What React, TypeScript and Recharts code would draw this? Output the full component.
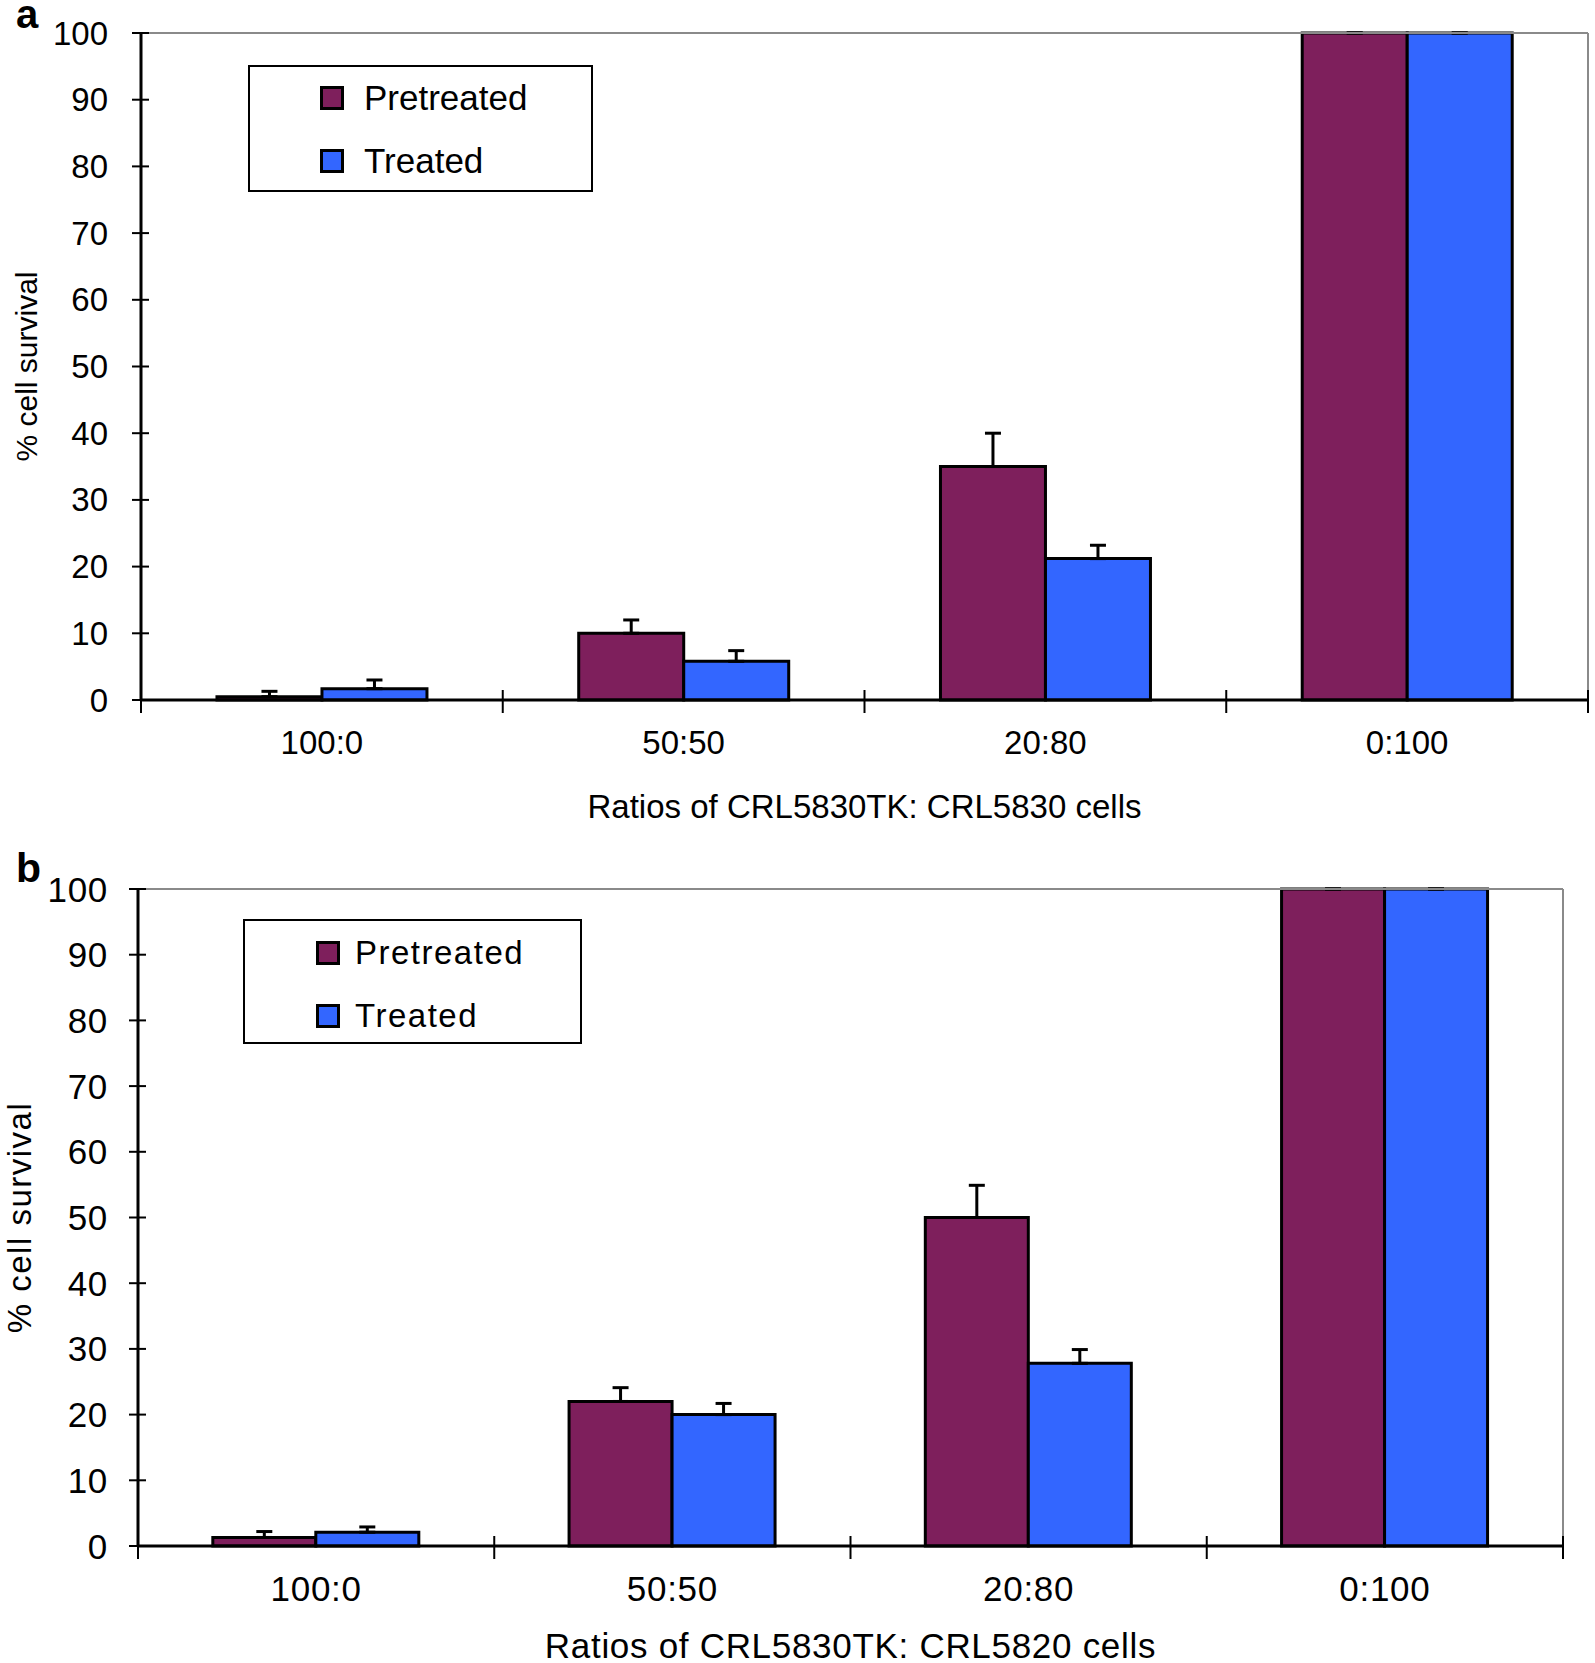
import React from 'react';
import { BarChart, Bar, XAxis, YAxis, ErrorBar, Legend, Label } from 'recharts';

// ---------- data ----------
const categories = ['100:0', '50:50', '20:80', '0:100'];
const yTicks = [0, 10, 20, 30, 40, 50, 60, 70, 80, 90, 100];

const panelAPretreated = [0.5, 10, 35, 100];
const panelAPretreatedErr = [0.8, 2, 5, 0];
const panelATreated = [1.7, 5.8, 21.2, 100];
const panelATreatedErr = [1.3, 1.6, 2, 0];

const panelBPretreated = [1.3, 22, 50, 100];
const panelBPretreatedErr = [0.9, 2.1, 4.9, 0];
const panelBTreated = [2.1, 20, 27.8, 100];
const panelBTreatedErr = [0.8, 1.7, 2.1, 0];

const seriesNames = ['Pretreated', 'Treated'];
const yTitle = '% cell survival';
const xTitleA = 'Ratios of CRL5830TK: CRL5830 cells';
const xTitleB = 'Ratios of CRL5830TK: CRL5820 cells';

// ---------- style ----------
const FONT = '"Liberation Sans", Arial, Helvetica, sans-serif';
const PRE_COLOR = '#7E1F5C';
const TR_COLOR = '#3366FF';

function buildRows(pre: number[], preErr: number[], tr: number[], trErr: number[]) {
  return categories.map((cat, i) => ({
    cat,
    pre: pre[i],
    preErr: [0, preErr[i]],
    tr: tr[i],
    trErr: [0, trErr[i]],
  }));
}

const rowsA = buildRows(panelAPretreated, panelAPretreatedErr, panelATreated, panelATreatedErr);
const rowsB = buildRows(panelBPretreated, panelBPretreatedErr, panelBTreated, panelBTreatedErr);

type PanelCfg = {
  rows: any[];
  top: number;
  height: number;
  marginTop: number;
  marginRight: number;
  yAxisWidth: number;
  xAxisHeight: number;
  tickFont: number;
  yTickGap: number;
  xLabelDy: number;
  xTitle: string;
  xTitleDy: number;
  xTitleFont: number;
  yTitleX: number;
  yTitleFont: number;
  yTitleSpacing: number;
  legendLeft: number;
  legendTop: number;
  legendWidth: number;
  legendHeight: number;
  legendFont: number;
  swatchLeft: number;
  textLeft: number;
  rowCenters: number[];
  letterSpacing: number;
  legendSpacing: number;
};

// top border axis and right border axis each take 1px
const panels: PanelCfg[] = [
  {
    rows: rowsA,
    top: 0,
    height: 830,
    marginTop: 32,
    marginRight: 6,
    yAxisWidth: 141,
    xAxisHeight: 130,
    tickFont: 33,
    yTickGap: 33,
    xLabelDy: 42,
    xTitle: xTitleA,
    xTitleDy: 106,
    xTitleFont: 33,
    yTitleX: 26,
    yTitleFont: 30,
    yTitleSpacing: 0,
    legendLeft: 248,
    legendTop: 65,
    legendWidth: 345,
    legendHeight: 127,
    legendFont: 35,
    swatchLeft: 72,
    textLeft: 116,
    rowCenters: [33, 96],
    letterSpacing: 0,
    legendSpacing: 0,
  },
  {
    rows: rowsB,
    top: 830,
    height: 833,
    marginTop: 58,
    marginRight: 31,
    yAxisWidth: 138,
    xAxisHeight: 117,
    tickFont: 35,
    yTickGap: 30,
    xLabelDy: 42,
    xTitle: xTitleB,
    xTitleDy: 99,
    xTitleFont: 35,
    yTitleX: 19,
    yTitleFont: 33,
    yTitleSpacing: 1.5,
    legendLeft: 243,
    legendTop: 89,
    legendWidth: 339,
    legendHeight: 125,
    legendFont: 33,
    swatchLeft: 73,
    textLeft: 112,
    rowCenters: [34, 97],
    letterSpacing: 0.7,
    legendSpacing: 1.5,
  },
];

const XTick = (props: any) => {
  const { x, y, payload, index, visibleTicksCount, width, cfg } = props;
  const count = visibleTicksCount || categories.length;
  const half = payload && typeof payload.offset === 'number' && payload.offset > 0 ? payload.offset : width / count / 2;
  const isLast = index === count - 1;
  return (
    <g>
      <line x1={x - half} x2={x - half} y1={y - 10} y2={y + 13} stroke="#000" strokeWidth={2} />
      {isLast && <line x1={x + half} x2={x + half} y1={y - 10} y2={y + 13} stroke="#000" strokeWidth={2} />}
      <text
        x={x}
        y={y + cfg.xLabelDy}
        textAnchor="middle"
        dominantBaseline="central"
        fontSize={cfg.tickFont}
        fontFamily={FONT}
        letterSpacing={cfg.letterSpacing}
        fill="#000"
      >
        {payload.value}
      </text>
    </g>
  );
};

const YTick = (props: any) => {
  const { x, y, payload, cfg } = props;
  return (
    <g>
      <line x1={x - 9} x2={x + 8} y1={y} y2={y} stroke="#000" strokeWidth={2} />
      <text
        x={x - cfg.yTickGap}
        y={y}
        textAnchor="end"
        dominantBaseline="central"
        fontSize={cfg.tickFont}
        fontFamily={FONT}
        letterSpacing={cfg.letterSpacing}
        fill="#000"
      >
        {payload.value}
      </text>
    </g>
  );
};

const makeLegend = (cfg: PanelCfg) => (props: any) => {
  const colors = [PRE_COLOR, TR_COLOR];
  const items =
    props && props.payload && props.payload.length
      ? props.payload.map((p: any, i: number) => ({ name: p.value, color: p.color || colors[i] }))
      : seriesNames.map((n, i) => ({ name: n, color: colors[i] }));
  return (
    <div
      style={{
        width: cfg.legendWidth,
        height: cfg.legendHeight,
        boxSizing: 'border-box',
        border: '2px solid #000',
        background: '#fff',
        position: 'relative',
        fontFamily: FONT,
      }}
    >
      {items.map((it: any, i: number) => (
        <div
          key={it.name}
          style={{
            position: 'absolute',
            left: cfg.swatchLeft - 2,
            top: cfg.rowCenters[i] - 14,
            height: 24,
            display: 'flex',
            alignItems: 'center',
          }}
        >
          <span
            style={{
              display: 'inline-block',
              width: 24,
              height: 24,
              boxSizing: 'border-box',
              border: '3px solid #000',
              background: it.color,
            }}
          />
          <span
            style={{
              marginLeft: cfg.textLeft - cfg.swatchLeft - 24,
              fontSize: cfg.legendFont,
              lineHeight: '24px',
              color: '#000',
              whiteSpace: 'nowrap',
              letterSpacing: cfg.legendSpacing,
            }}
          >
            {it.name}
          </span>
        </div>
      ))}
    </div>
  );
};

const Panel = ({ cfg }: { cfg: PanelCfg }) => {
  const margin = { top: cfg.marginTop, right: cfg.marginRight, left: 0, bottom: 0 };
  return (
    <div style={{ position: 'absolute', left: 0, top: cfg.top }}>
      <BarChart
        width={1595}
        height={cfg.height}
        data={cfg.rows}
        margin={margin}
        barCategoryGap="21%"
        barGap={0}
      >
        <XAxis
          dataKey="cat"
          type="category"
          height={cfg.xAxisHeight}
          tickSize={0}
          tickMargin={0}
          tickLine={false}
          axisLine={{ stroke: '#000', strokeWidth: 3 }}
          interval={0}
          tick={(p: any) => <XTick {...p} cfg={cfg} />}
        >
          <Label
            content={(lp: any) => {
              const vb = lp.viewBox || {};
              return (
                <text
                  x={vb.x + vb.width / 2}
                  y={vb.y + cfg.xTitleDy}
                  textAnchor="middle"
                  dominantBaseline="central"
                  fontSize={cfg.xTitleFont}
                  fontFamily={FONT}
                  letterSpacing={cfg.letterSpacing}
                  fill="#000"
                >
                  {cfg.xTitle}
                </text>
              );
            }}
          />
        </XAxis>
        <XAxis
          xAxisId="top"
          orientation="top"
          dataKey="cat"
          height={1}
          tick={false}
          tickLine={false}
          axisLine={{ stroke: '#8a8a8a', strokeWidth: 2 }}
        />
        <YAxis
          type="number"
          domain={[0, 100]}
          ticks={yTicks}
          interval={0}
          width={cfg.yAxisWidth}
          tickSize={0}
          tickMargin={0}
          tickLine={false}
          axisLine={{ stroke: '#000', strokeWidth: 3 }}
          tick={(p: any) => <YTick {...p} cfg={cfg} />}
        >
          <Label
            content={(lp: any) => {
              const vb = lp.viewBox || {};
              const cx = vb.x + cfg.yTitleX;
              const cy = vb.y + vb.height / 2;
              return (
                <text
                  x={cx}
                  y={cy}
                  transform={`rotate(-90 ${cx} ${cy})`}
                  textAnchor="middle"
                  dominantBaseline="central"
                  fontSize={cfg.yTitleFont}
                  fontFamily={FONT}
                  letterSpacing={cfg.yTitleSpacing}
                  fill="#000"
                >
                  {yTitle}
                </text>
              );
            }}
          />
        </YAxis>
        <YAxis
          yAxisId="right"
          orientation="right"
          type="number"
          domain={[0, 100]}
          width={1}
          tick={false}
          tickLine={false}
          axisLine={{ stroke: '#8a8a8a', strokeWidth: 2 }}
        />
        <Legend
          layout="vertical"
          align="center"
          verticalAlign="middle"
          content={makeLegend(cfg)}
          wrapperStyle={{
            position: 'absolute',
            left: cfg.legendLeft,
            top: cfg.legendTop,
            width: cfg.legendWidth,
            height: cfg.legendHeight,
            margin: 0,
            padding: 0,
          }}
        />
        <Bar dataKey="pre" name={seriesNames[0]} fill={PRE_COLOR} stroke="#000" strokeWidth={3} isAnimationActive={false}>
          <ErrorBar dataKey="preErr" direction="y" width={8} stroke="#000" strokeWidth={3} />
        </Bar>
        <Bar dataKey="tr" name={seriesNames[1]} fill={TR_COLOR} stroke="#000" strokeWidth={3} isAnimationActive={false}>
          <ErrorBar dataKey="trErr" direction="y" width={8} stroke="#000" strokeWidth={3} />
        </Bar>
      </BarChart>
    </div>
  );
};

export default function App() {
  return (
    <div style={{ position: 'absolute', left: 0, top: 0, width: 1595, height: 1663, background: '#fff', overflow: 'hidden' }}>
      {panels.map((cfg, i) => (
        <Panel key={i} cfg={cfg} />
      ))}
      <svg width={1595} height={1663} style={{ position: 'absolute', left: 0, top: 0, pointerEvents: 'none' }}>
        <text x={16} y={28} fontSize={40} fontWeight="bold" fontFamily={FONT} fill="#000">a</text>
        <text x={16} y={882} fontSize={41} fontWeight="bold" fontFamily={FONT} fill="#000">b</text>
      </svg>
    </div>
  );
}
